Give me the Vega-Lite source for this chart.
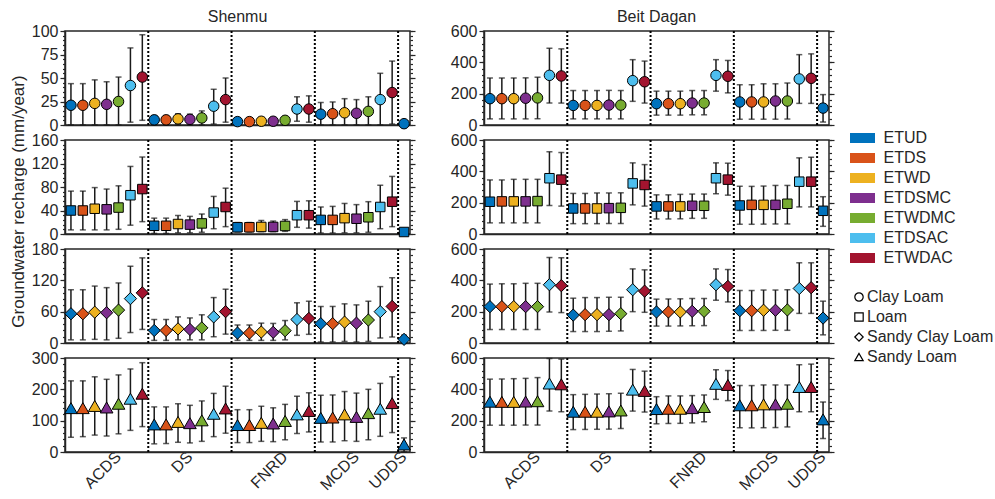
{
"$schema":"https://vega.github.io/schema/vega-lite/v6.json",
"background":"white",
"padding":{"left":8,"top":8,"right":5,"bottom":5},
"config":{
 "font":"Liberation Sans",
 "view":{"stroke":"#262626","strokeWidth":1.5},
 "axis":{"labelFont":"Liberation Sans","titleFont":"Liberation Sans","labelFontSize":16,"labelColor":"#262626","domainColor":"#262626","domainWidth":1.5,"tickColor":"#262626","tickWidth":1.2,"grid":false,"titleFontSize":16,"titleFontWeight":"normal","titleColor":"#262626","labelFlush":false,"labelOverlap":false,"labelBound":false},
 "title":{"font":"Liberation Sans","fontSize":16,"fontWeight":"normal","color":"#262626","offset":-2},
 "legend":{"labelFont":"Liberation Sans","labelFontSize":16,"labelColor":"#262626"}
},
"datasets":{
"seps":[{"case":"DS-ETUD"},{"case":"FNRD-ETUD"},{"case":"MCDS-ETUD"},{"case":"UDDS-ETUD"}],
"sm_cl":[
{"soil":"Clay Loam","case":"ACDS-ETUD","method":"ETUD","mean":21,"lo":0,"hi":44},
{"soil":"Clay Loam","case":"ACDS-ETDS","method":"ETDS","mean":21,"lo":0,"hi":44},
{"soil":"Clay Loam","case":"ACDS-ETWD","method":"ETWD","mean":23,"lo":0,"hi":48},
{"soil":"Clay Loam","case":"ACDS-ETDSMC","method":"ETDSMC","mean":22,"lo":0,"hi":46},
{"soil":"Clay Loam","case":"ACDS-ETWDMC","method":"ETWDMC","mean":25,"lo":0,"hi":51},
{"soil":"Clay Loam","case":"ACDS-ETDSAC","method":"ETDSAC","mean":42,"lo":3,"hi":82},
{"soil":"Clay Loam","case":"ACDS-ETWDAC","method":"ETWDAC","mean":51,"lo":5,"hi":96},
{"soil":"Clay Loam","case":"DS-ETUD","method":"ETUD","mean":5.5,"lo":0,"hi":10},
{"soil":"Clay Loam","case":"DS-ETDS","method":"ETDS","mean":5.5,"lo":0,"hi":10},
{"soil":"Clay Loam","case":"DS-ETWD","method":"ETWD","mean":6.5,"lo":0,"hi":12},
{"soil":"Clay Loam","case":"DS-ETDSMC","method":"ETDSMC","mean":6,"lo":0,"hi":11.5},
{"soil":"Clay Loam","case":"DS-ETWDMC","method":"ETWDMC","mean":7.5,"lo":0,"hi":15},
{"soil":"Clay Loam","case":"DS-ETDSAC","method":"ETDSAC","mean":20,"lo":1,"hi":38},
{"soil":"Clay Loam","case":"DS-ETWDAC","method":"ETWDAC","mean":27,"lo":3,"hi":50},
{"soil":"Clay Loam","case":"FNRD-ETUD","method":"ETUD","mean":3.6,"lo":0,"hi":7},
{"soil":"Clay Loam","case":"FNRD-ETDS","method":"ETDS","mean":3.6,"lo":0,"hi":7},
{"soil":"Clay Loam","case":"FNRD-ETWD","method":"ETWD","mean":4,"lo":0,"hi":8},
{"soil":"Clay Loam","case":"FNRD-ETDSMC","method":"ETDSMC","mean":4,"lo":0,"hi":8},
{"soil":"Clay Loam","case":"FNRD-ETWDMC","method":"ETWDMC","mean":5,"lo":0,"hi":9},
{"soil":"Clay Loam","case":"FNRD-ETDSAC","method":"ETDSAC","mean":17,"lo":4,"hi":30},
{"soil":"Clay Loam","case":"FNRD-ETWDAC","method":"ETWDAC","mean":17,"lo":3,"hi":31},
{"soil":"Clay Loam","case":"MCDS-ETUD","method":"ETUD","mean":11.5,"lo":0,"hi":24},
{"soil":"Clay Loam","case":"MCDS-ETDS","method":"ETDS","mean":12,"lo":0,"hi":24.5},
{"soil":"Clay Loam","case":"MCDS-ETWD","method":"ETWD","mean":13,"lo":0,"hi":28},
{"soil":"Clay Loam","case":"MCDS-ETDSMC","method":"ETDSMC","mean":12.5,"lo":0,"hi":27},
{"soil":"Clay Loam","case":"MCDS-ETWDMC","method":"ETWDMC","mean":14.5,"lo":0,"hi":30},
{"soil":"Clay Loam","case":"MCDS-ETDSAC","method":"ETDSAC","mean":27,"lo":0,"hi":55},
{"soil":"Clay Loam","case":"MCDS-ETWDAC","method":"ETWDAC","mean":34.5,"lo":1,"hi":68},
{"soil":"Clay Loam","case":"UDDS-ETUD","method":"ETUD","mean":1.4,"lo":0,"hi":3}
],
"sm_l":[
{"soil":"Loam","case":"ACDS-ETUD","method":"ETUD","mean":40,"lo":7,"hi":73},
{"soil":"Loam","case":"ACDS-ETDS","method":"ETDS","mean":40,"lo":7,"hi":73},
{"soil":"Loam","case":"ACDS-ETWD","method":"ETWD","mean":43,"lo":7,"hi":79},
{"soil":"Loam","case":"ACDS-ETDSMC","method":"ETDSMC","mean":42,"lo":7,"hi":76.5},
{"soil":"Loam","case":"ACDS-ETWDMC","method":"ETWDMC","mean":45,"lo":8,"hi":82},
{"soil":"Loam","case":"ACDS-ETDSAC","method":"ETDSAC","mean":66,"lo":15,"hi":115},
{"soil":"Loam","case":"ACDS-ETWDAC","method":"ETWDAC","mean":76.5,"lo":21,"hi":131},
{"soil":"Loam","case":"DS-ETUD","method":"ETUD","mean":14,"lo":1,"hi":27},
{"soil":"Loam","case":"DS-ETDS","method":"ETDS","mean":14,"lo":1,"hi":27},
{"soil":"Loam","case":"DS-ETWD","method":"ETWD","mean":17,"lo":2,"hi":31.5},
{"soil":"Loam","case":"DS-ETDSMC","method":"ETDSMC","mean":16,"lo":2,"hi":30},
{"soil":"Loam","case":"DS-ETWDMC","method":"ETWDMC","mean":18,"lo":3,"hi":34},
{"soil":"Loam","case":"DS-ETDSAC","method":"ETDSAC","mean":36.5,"lo":9,"hi":64},
{"soil":"Loam","case":"DS-ETWDAC","method":"ETWDAC","mean":46,"lo":12.5,"hi":78},
{"soil":"Loam","case":"FNRD-ETUD","method":"ETUD","mean":11.4,"lo":3.5,"hi":19.5},
{"soil":"Loam","case":"FNRD-ETDS","method":"ETDS","mean":11.4,"lo":3.5,"hi":19.5},
{"soil":"Loam","case":"FNRD-ETWD","method":"ETWD","mean":12,"lo":4,"hi":23},
{"soil":"Loam","case":"FNRD-ETDSMC","method":"ETDSMC","mean":12,"lo":4,"hi":22},
{"soil":"Loam","case":"FNRD-ETWDMC","method":"ETWDMC","mean":13.7,"lo":4.5,"hi":24.5},
{"soil":"Loam","case":"FNRD-ETDSAC","method":"ETDSAC","mean":32,"lo":11.4,"hi":55.5},
{"soil":"Loam","case":"FNRD-ETWDAC","method":"ETWDAC","mean":32,"lo":10,"hi":56.5},
{"soil":"Loam","case":"MCDS-ETUD","method":"ETUD","mean":24,"lo":1.7,"hi":46},
{"soil":"Loam","case":"MCDS-ETDS","method":"ETDS","mean":24,"lo":1.7,"hi":47},
{"soil":"Loam","case":"MCDS-ETWD","method":"ETWD","mean":27,"lo":2,"hi":52},
{"soil":"Loam","case":"MCDS-ETDSMC","method":"ETDSMC","mean":26,"lo":2,"hi":50},
{"soil":"Loam","case":"MCDS-ETWDMC","method":"ETWDMC","mean":28.5,"lo":3,"hi":55},
{"soil":"Loam","case":"MCDS-ETDSAC","method":"ETDSAC","mean":46,"lo":9,"hi":83},
{"soil":"Loam","case":"MCDS-ETWDAC","method":"ETWDAC","mean":55,"lo":12.5,"hi":98},
{"soil":"Loam","case":"UDDS-ETUD","method":"ETUD","mean":3.4,"lo":0,"hi":7}
],
"sm_scl":[
{"soil":"Sandy Clay Loam","case":"ACDS-ETUD","method":"ETUD","mean":56,"lo":6,"hi":102},
{"soil":"Sandy Clay Loam","case":"ACDS-ETDS","method":"ETDS","mean":56,"lo":6,"hi":102},
{"soil":"Sandy Clay Loam","case":"ACDS-ETWD","method":"ETWD","mean":59,"lo":7,"hi":109},
{"soil":"Sandy Clay Loam","case":"ACDS-ETDSMC","method":"ETDSMC","mean":58,"lo":6,"hi":106},
{"soil":"Sandy Clay Loam","case":"ACDS-ETWDMC","method":"ETWDMC","mean":63,"lo":9,"hi":115},
{"soil":"Sandy Clay Loam","case":"ACDS-ETDSAC","method":"ETDSAC","mean":85,"lo":20,"hi":147},
{"soil":"Sandy Clay Loam","case":"ACDS-ETWDAC","method":"ETWDAC","mean":96,"lo":26,"hi":163},
{"soil":"Sandy Clay Loam","case":"DS-ETUD","method":"ETUD","mean":24,"lo":5,"hi":45},
{"soil":"Sandy Clay Loam","case":"DS-ETDS","method":"ETDS","mean":24,"lo":5,"hi":45},
{"soil":"Sandy Clay Loam","case":"DS-ETWD","method":"ETWD","mean":27,"lo":6,"hi":50},
{"soil":"Sandy Clay Loam","case":"DS-ETDSMC","method":"ETDSMC","mean":26,"lo":6,"hi":48},
{"soil":"Sandy Clay Loam","case":"DS-ETWDMC","method":"ETWDMC","mean":29,"lo":6,"hi":54},
{"soil":"Sandy Clay Loam","case":"DS-ETDSAC","method":"ETDSAC","mean":50,"lo":12,"hi":87},
{"soil":"Sandy Clay Loam","case":"DS-ETWDAC","method":"ETWDAC","mean":60,"lo":17,"hi":103},
{"soil":"Sandy Clay Loam","case":"FNRD-ETUD","method":"ETUD","mean":19,"lo":5,"hi":34.5},
{"soil":"Sandy Clay Loam","case":"FNRD-ETDS","method":"ETDS","mean":19,"lo":5,"hi":34.5},
{"soil":"Sandy Clay Loam","case":"FNRD-ETWD","method":"ETWD","mean":21,"lo":5,"hi":38},
{"soil":"Sandy Clay Loam","case":"FNRD-ETDSMC","method":"ETDSMC","mean":20.5,"lo":5,"hi":37.5},
{"soil":"Sandy Clay Loam","case":"FNRD-ETWDMC","method":"ETWDMC","mean":23.6,"lo":6,"hi":43},
{"soil":"Sandy Clay Loam","case":"FNRD-ETDSAC","method":"ETDSAC","mean":45,"lo":14.7,"hi":77},
{"soil":"Sandy Clay Loam","case":"FNRD-ETWDAC","method":"ETWDAC","mean":47,"lo":16.6,"hi":80},
{"soil":"Sandy Clay Loam","case":"MCDS-ETUD","method":"ETUD","mean":37,"lo":2,"hi":70},
{"soil":"Sandy Clay Loam","case":"MCDS-ETDS","method":"ETDS","mean":37,"lo":2,"hi":70},
{"soil":"Sandy Clay Loam","case":"MCDS-ETWD","method":"ETWD","mean":40,"lo":3,"hi":75},
{"soil":"Sandy Clay Loam","case":"MCDS-ETDSMC","method":"ETDSMC","mean":38,"lo":2,"hi":73},
{"soil":"Sandy Clay Loam","case":"MCDS-ETWDMC","method":"ETWDMC","mean":44,"lo":3,"hi":80},
{"soil":"Sandy Clay Loam","case":"MCDS-ETDSAC","method":"ETDSAC","mean":60,"lo":9.6,"hi":108},
{"soil":"Sandy Clay Loam","case":"MCDS-ETWDAC","method":"ETWDAC","mean":70,"lo":11.5,"hi":125},
{"soil":"Sandy Clay Loam","case":"UDDS-ETUD","method":"ETUD","mean":7,"lo":0,"hi":15}
],
"sm_sl":[
{"soil":"Sandy Loam","case":"ACDS-ETUD","method":"ETUD","mean":140,"lo":47,"hi":227},
{"soil":"Sandy Loam","case":"ACDS-ETDS","method":"ETDS","mean":140,"lo":49,"hi":227},
{"soil":"Sandy Loam","case":"ACDS-ETWD","method":"ETWD","mean":147,"lo":54,"hi":240},
{"soil":"Sandy Loam","case":"ACDS-ETDSMC","method":"ETDSMC","mean":142,"lo":51,"hi":232},
{"soil":"Sandy Loam","case":"ACDS-ETWDMC","method":"ETWDMC","mean":154,"lo":58,"hi":246},
{"soil":"Sandy Loam","case":"ACDS-ETDSAC","method":"ETDSAC","mean":170,"lo":69,"hi":265},
{"soil":"Sandy Loam","case":"ACDS-ETWDAC","method":"ETWDAC","mean":186,"lo":81,"hi":285},
{"soil":"Sandy Loam","case":"DS-ETUD","method":"ETUD","mean":88,"lo":26,"hi":144},
{"soil":"Sandy Loam","case":"DS-ETDS","method":"ETDS","mean":88,"lo":27,"hi":144},
{"soil":"Sandy Loam","case":"DS-ETWD","method":"ETWD","mean":96,"lo":31,"hi":154},
{"soil":"Sandy Loam","case":"DS-ETDSMC","method":"ETDSMC","mean":92,"lo":29,"hi":149},
{"soil":"Sandy Loam","case":"DS-ETWDMC","method":"ETWDMC","mean":101,"lo":34,"hi":163},
{"soil":"Sandy Loam","case":"DS-ETDSAC","method":"ETDSAC","mean":122,"lo":49,"hi":187},
{"soil":"Sandy Loam","case":"DS-ETWDAC","method":"ETWDAC","mean":139,"lo":60,"hi":210},
{"soil":"Sandy Loam","case":"FNRD-ETUD","method":"ETUD","mean":86,"lo":30,"hi":135},
{"soil":"Sandy Loam","case":"FNRD-ETDS","method":"ETDS","mean":86,"lo":30,"hi":135},
{"soil":"Sandy Loam","case":"FNRD-ETWD","method":"ETWD","mean":93,"lo":34,"hi":146},
{"soil":"Sandy Loam","case":"FNRD-ETDSMC","method":"ETDSMC","mean":91,"lo":33,"hi":141},
{"soil":"Sandy Loam","case":"FNRD-ETWDMC","method":"ETWDMC","mean":99,"lo":39,"hi":152},
{"soil":"Sandy Loam","case":"FNRD-ETDSAC","method":"ETDSAC","mean":120,"lo":59,"hi":178},
{"soil":"Sandy Loam","case":"FNRD-ETWDAC","method":"ETWDAC","mean":131,"lo":64,"hi":189},
{"soil":"Sandy Loam","case":"MCDS-ETUD","method":"ETUD","mean":109,"lo":32,"hi":181},
{"soil":"Sandy Loam","case":"MCDS-ETDS","method":"ETDS","mean":110,"lo":32,"hi":182},
{"soil":"Sandy Loam","case":"MCDS-ETWD","method":"ETWD","mean":120,"lo":36,"hi":193},
{"soil":"Sandy Loam","case":"MCDS-ETDSMC","method":"ETDSMC","mean":112,"lo":34,"hi":188},
{"soil":"Sandy Loam","case":"MCDS-ETWDMC","method":"ETWDMC","mean":124,"lo":39,"hi":200},
{"soil":"Sandy Loam","case":"MCDS-ETDSAC","method":"ETDSAC","mean":138,"lo":50,"hi":219},
{"soil":"Sandy Loam","case":"MCDS-ETWDAC","method":"ETWDAC","mean":156,"lo":62,"hi":240},
{"soil":"Sandy Loam","case":"UDDS-ETUD","method":"ETUD","mean":24,"lo":0,"hi":45}
],
"bd_cl":[
{"soil":"Clay Loam","case":"ACDS-ETUD","method":"ETUD","mean":168,"lo":39,"hi":300},
{"soil":"Clay Loam","case":"ACDS-ETDS","method":"ETDS","mean":168,"lo":39,"hi":300},
{"soil":"Clay Loam","case":"ACDS-ETWD","method":"ETWD","mean":168,"lo":39,"hi":300},
{"soil":"Clay Loam","case":"ACDS-ETDSMC","method":"ETDSMC","mean":171,"lo":39,"hi":301},
{"soil":"Clay Loam","case":"ACDS-ETWDMC","method":"ETWDMC","mean":173,"lo":40,"hi":305},
{"soil":"Clay Loam","case":"ACDS-ETDSAC","method":"ETDSAC","mean":317,"lo":140,"hi":490},
{"soil":"Clay Loam","case":"ACDS-ETWDAC","method":"ETWDAC","mean":313,"lo":140,"hi":486},
{"soil":"Clay Loam","case":"DS-ETUD","method":"ETUD","mean":125,"lo":39,"hi":220},
{"soil":"Clay Loam","case":"DS-ETDS","method":"ETDS","mean":125,"lo":39,"hi":220},
{"soil":"Clay Loam","case":"DS-ETWD","method":"ETWD","mean":125,"lo":39,"hi":220},
{"soil":"Clay Loam","case":"DS-ETDSMC","method":"ETDSMC","mean":127,"lo":39,"hi":221},
{"soil":"Clay Loam","case":"DS-ETWDMC","method":"ETWDMC","mean":127,"lo":39,"hi":220},
{"soil":"Clay Loam","case":"DS-ETDSAC","method":"ETDSAC","mean":283,"lo":151,"hi":417},
{"soil":"Clay Loam","case":"DS-ETWDAC","method":"ETWDAC","mean":276,"lo":140,"hi":408},
{"soil":"Clay Loam","case":"FNRD-ETUD","method":"ETUD","mean":136,"lo":63,"hi":216},
{"soil":"Clay Loam","case":"FNRD-ETDS","method":"ETDS","mean":136,"lo":63,"hi":216},
{"soil":"Clay Loam","case":"FNRD-ETWD","method":"ETWD","mean":136,"lo":63,"hi":216},
{"soil":"Clay Loam","case":"FNRD-ETDSMC","method":"ETDSMC","mean":140,"lo":65,"hi":220},
{"soil":"Clay Loam","case":"FNRD-ETWDMC","method":"ETWDMC","mean":140,"lo":65,"hi":220},
{"soil":"Clay Loam","case":"FNRD-ETDSAC","method":"ETDSAC","mean":317,"lo":216,"hi":417},
{"soil":"Clay Loam","case":"FNRD-ETWDAC","method":"ETWDAC","mean":311,"lo":205,"hi":412},
{"soil":"Clay Loam","case":"MCDS-ETUD","method":"ETUD","mean":147,"lo":37,"hi":257},
{"soil":"Clay Loam","case":"MCDS-ETDS","method":"ETDS","mean":147,"lo":37,"hi":257},
{"soil":"Clay Loam","case":"MCDS-ETWD","method":"ETWD","mean":147,"lo":37,"hi":263},
{"soil":"Clay Loam","case":"MCDS-ETDSMC","method":"ETDSMC","mean":153,"lo":37,"hi":263},
{"soil":"Clay Loam","case":"MCDS-ETWDMC","method":"ETWDMC","mean":153,"lo":38,"hi":268},
{"soil":"Clay Loam","case":"MCDS-ETDSAC","method":"ETDSAC","mean":294,"lo":138,"hi":449},
{"soil":"Clay Loam","case":"MCDS-ETWDAC","method":"ETWDAC","mean":298,"lo":138,"hi":454},
{"soil":"Clay Loam","case":"UDDS-ETUD","method":"ETUD","mean":108,"lo":19,"hi":194}
],
"bd_l":[
{"soil":"Loam","case":"ACDS-ETUD","method":"ETUD","mean":206,"lo":71,"hi":345},
{"soil":"Loam","case":"ACDS-ETDS","method":"ETDS","mean":208,"lo":71,"hi":345},
{"soil":"Loam","case":"ACDS-ETWD","method":"ETWD","mean":208,"lo":71,"hi":349},
{"soil":"Loam","case":"ACDS-ETDSMC","method":"ETDSMC","mean":208,"lo":71,"hi":349},
{"soil":"Loam","case":"ACDS-ETWDMC","method":"ETWDMC","mean":210,"lo":71,"hi":349},
{"soil":"Loam","case":"ACDS-ETDSAC","method":"ETDSAC","mean":356,"lo":182,"hi":525},
{"soil":"Loam","case":"ACDS-ETWDAC","method":"ETWDAC","mean":347,"lo":178,"hi":520},
{"soil":"Loam","case":"DS-ETUD","method":"ETUD","mean":163,"lo":66,"hi":259},
{"soil":"Loam","case":"DS-ETDS","method":"ETDS","mean":163,"lo":66,"hi":259},
{"soil":"Loam","case":"DS-ETWD","method":"ETWD","mean":163,"lo":66,"hi":262},
{"soil":"Loam","case":"DS-ETDSMC","method":"ETDSMC","mean":165,"lo":67,"hi":262},
{"soil":"Loam","case":"DS-ETWDMC","method":"ETWDMC","mean":167,"lo":67,"hi":263},
{"soil":"Loam","case":"DS-ETDSAC","method":"ETDSAC","mean":323,"lo":186,"hi":454},
{"soil":"Loam","case":"DS-ETWDAC","method":"ETWDAC","mean":313,"lo":178,"hi":443},
{"soil":"Loam","case":"FNRD-ETUD","method":"ETUD","mean":176,"lo":96,"hi":250},
{"soil":"Loam","case":"FNRD-ETDS","method":"ETDS","mean":176,"lo":96,"hi":250},
{"soil":"Loam","case":"FNRD-ETWD","method":"ETWD","mean":176,"lo":97,"hi":253},
{"soil":"Loam","case":"FNRD-ETDSMC","method":"ETDSMC","mean":180,"lo":100,"hi":255},
{"soil":"Loam","case":"FNRD-ETWDMC","method":"ETWDMC","mean":180,"lo":100,"hi":255},
{"soil":"Loam","case":"FNRD-ETDSAC","method":"ETDSAC","mean":356,"lo":257,"hi":454},
{"soil":"Loam","case":"FNRD-ETWDAC","method":"ETWDAC","mean":347,"lo":248,"hi":452},
{"soil":"Loam","case":"MCDS-ETUD","method":"ETUD","mean":182,"lo":62,"hi":304},
{"soil":"Loam","case":"MCDS-ETDS","method":"ETDS","mean":186,"lo":62,"hi":304},
{"soil":"Loam","case":"MCDS-ETWD","method":"ETWD","mean":186,"lo":63,"hi":306},
{"soil":"Loam","case":"MCDS-ETDSMC","method":"ETDSMC","mean":186,"lo":64,"hi":310},
{"soil":"Loam","case":"MCDS-ETWDMC","method":"ETWDMC","mean":193,"lo":64,"hi":310},
{"soil":"Loam","case":"MCDS-ETDSAC","method":"ETDSAC","mean":334,"lo":173,"hi":486},
{"soil":"Loam","case":"MCDS-ETWDAC","method":"ETWDAC","mean":334,"lo":173,"hi":490},
{"soil":"Loam","case":"UDDS-ETUD","method":"ETUD","mean":148,"lo":49,"hi":238}
],
"bd_scl":[
{"soil":"Sandy Clay Loam","case":"ACDS-ETUD","method":"ETUD","mean":232,"lo":86,"hi":376},
{"soil":"Sandy Clay Loam","case":"ACDS-ETDS","method":"ETDS","mean":232,"lo":86,"hi":378},
{"soil":"Sandy Clay Loam","case":"ACDS-ETWD","method":"ETWD","mean":232,"lo":86,"hi":378},
{"soil":"Sandy Clay Loam","case":"ACDS-ETDSMC","method":"ETDSMC","mean":232,"lo":86,"hi":381},
{"soil":"Sandy Clay Loam","case":"ACDS-ETWDMC","method":"ETWDMC","mean":232,"lo":86,"hi":381},
{"soil":"Sandy Clay Loam","case":"ACDS-ETDSAC","method":"ETDSAC","mean":372,"lo":198,"hi":546},
{"soil":"Sandy Clay Loam","case":"ACDS-ETWDAC","method":"ETWDAC","mean":366,"lo":194,"hi":544},
{"soil":"Sandy Clay Loam","case":"DS-ETUD","method":"ETUD","mean":178,"lo":73,"hi":286},
{"soil":"Sandy Clay Loam","case":"DS-ETDS","method":"ETDS","mean":181,"lo":73,"hi":290},
{"soil":"Sandy Clay Loam","case":"DS-ETWD","method":"ETWD","mean":181,"lo":73,"hi":290},
{"soil":"Sandy Clay Loam","case":"DS-ETDSMC","method":"ETDSMC","mean":181,"lo":75,"hi":292},
{"soil":"Sandy Clay Loam","case":"DS-ETWDMC","method":"ETWDMC","mean":187,"lo":77,"hi":292},
{"soil":"Sandy Clay Loam","case":"DS-ETDSAC","method":"ETDSAC","mean":340,"lo":200,"hi":473},
{"soil":"Sandy Clay Loam","case":"DS-ETWDAC","method":"ETWDAC","mean":331,"lo":196,"hi":467},
{"soil":"Sandy Clay Loam","case":"FNRD-ETUD","method":"ETUD","mean":198,"lo":108,"hi":280},
{"soil":"Sandy Clay Loam","case":"FNRD-ETDS","method":"ETDS","mean":198,"lo":108,"hi":281},
{"soil":"Sandy Clay Loam","case":"FNRD-ETWD","method":"ETWD","mean":198,"lo":109,"hi":282},
{"soil":"Sandy Clay Loam","case":"FNRD-ETDSMC","method":"ETDSMC","mean":202,"lo":110,"hi":284},
{"soil":"Sandy Clay Loam","case":"FNRD-ETWDMC","method":"ETWDMC","mean":202,"lo":111,"hi":284},
{"soil":"Sandy Clay Loam","case":"FNRD-ETDSAC","method":"ETDSAC","mean":372,"lo":273,"hi":473},
{"soil":"Sandy Clay Loam","case":"FNRD-ETWDAC","method":"ETWDAC","mean":361,"lo":262,"hi":469},
{"soil":"Sandy Clay Loam","case":"MCDS-ETUD","method":"ETUD","mean":206,"lo":80,"hi":335},
{"soil":"Sandy Clay Loam","case":"MCDS-ETDS","method":"ETDS","mean":206,"lo":80,"hi":335},
{"soil":"Sandy Clay Loam","case":"MCDS-ETWD","method":"ETWD","mean":209,"lo":80,"hi":338},
{"soil":"Sandy Clay Loam","case":"MCDS-ETDSMC","method":"ETDSMC","mean":209,"lo":81,"hi":338},
{"soil":"Sandy Clay Loam","case":"MCDS-ETWDMC","method":"ETWDMC","mean":211,"lo":81,"hi":340},
{"soil":"Sandy Clay Loam","case":"MCDS-ETDSAC","method":"ETDSAC","mean":348,"lo":189,"hi":512},
{"soil":"Sandy Clay Loam","case":"MCDS-ETWDAC","method":"ETWDAC","mean":353,"lo":189,"hi":512},
{"soil":"Sandy Clay Loam","case":"UDDS-ETUD","method":"ETUD","mean":159,"lo":52,"hi":267}
],
"bd_sl":[
{"soil":"Sandy Loam","case":"ACDS-ETUD","method":"ETUD","mean":321,"lo":171,"hi":465},
{"soil":"Sandy Loam","case":"ACDS-ETDS","method":"ETDS","mean":320,"lo":171,"hi":466},
{"soil":"Sandy Loam","case":"ACDS-ETWD","method":"ETWD","mean":320,"lo":171,"hi":468},
{"soil":"Sandy Loam","case":"ACDS-ETDSMC","method":"ETDSMC","mean":322,"lo":172,"hi":470},
{"soil":"Sandy Loam","case":"ACDS-ETWDMC","method":"ETWDMC","mean":324,"lo":172,"hi":475},
{"soil":"Sandy Loam","case":"ACDS-ETDSAC","method":"ETDSAC","mean":437,"lo":261,"hi":597},
{"soil":"Sandy Loam","case":"ACDS-ETWDAC","method":"ETWDAC","mean":432,"lo":257,"hi":593},
{"soil":"Sandy Loam","case":"DS-ETUD","method":"ETUD","mean":257,"lo":143,"hi":366},
{"soil":"Sandy Loam","case":"DS-ETDS","method":"ETDS","mean":257,"lo":144,"hi":368},
{"soil":"Sandy Loam","case":"DS-ETWD","method":"ETWD","mean":257,"lo":145,"hi":370},
{"soil":"Sandy Loam","case":"DS-ETDSMC","method":"ETDSMC","mean":259,"lo":146,"hi":372},
{"soil":"Sandy Loam","case":"DS-ETWDMC","method":"ETWDMC","mean":265,"lo":150,"hi":375},
{"soil":"Sandy Loam","case":"DS-ETDSAC","method":"ETDSAC","mean":398,"lo":261,"hi":527},
{"soil":"Sandy Loam","case":"DS-ETWDAC","method":"ETWDAC","mean":390,"lo":255,"hi":516},
{"soil":"Sandy Loam","case":"FNRD-ETUD","method":"ETUD","mean":274,"lo":180,"hi":353},
{"soil":"Sandy Loam","case":"FNRD-ETDS","method":"ETDS","mean":276,"lo":182,"hi":358},
{"soil":"Sandy Loam","case":"FNRD-ETWD","method":"ETWD","mean":276,"lo":183,"hi":358},
{"soil":"Sandy Loam","case":"FNRD-ETDSMC","method":"ETDSMC","mean":280,"lo":186,"hi":360},
{"soil":"Sandy Loam","case":"FNRD-ETWDMC","method":"ETWDMC","mean":287,"lo":193,"hi":364},
{"soil":"Sandy Loam","case":"FNRD-ETDSAC","method":"ETDSAC","mean":435,"lo":336,"hi":525},
{"soil":"Sandy Loam","case":"FNRD-ETWDAC","method":"ETWDAC","mean":428,"lo":328,"hi":520},
{"soil":"Sandy Loam","case":"MCDS-ETUD","method":"ETUD","mean":298,"lo":154,"hi":424},
{"soil":"Sandy Loam","case":"MCDS-ETDS","method":"ETDS","mean":298,"lo":154,"hi":424},
{"soil":"Sandy Loam","case":"MCDS-ETWD","method":"ETWD","mean":304,"lo":155,"hi":428},
{"soil":"Sandy Loam","case":"MCDS-ETDSMC","method":"ETDSMC","mean":304,"lo":156,"hi":428},
{"soil":"Sandy Loam","case":"MCDS-ETWDMC","method":"ETWDMC","mean":308,"lo":160,"hi":428},
{"soil":"Sandy Loam","case":"MCDS-ETDSAC","method":"ETDSAC","mean":415,"lo":257,"hi":557},
{"soil":"Sandy Loam","case":"MCDS-ETWDAC","method":"ETWDAC","mean":415,"lo":257,"hi":561},
{"soil":"Sandy Loam","case":"UDDS-ETUD","method":"ETUD","mean":208,"lo":86,"hi":319}
]
},
"columns":2,
"spacing":{"row":15,"column":74},
"bounds":"flush",
"resolve":{"scale":{"color":"shared","shape":"shared"},"legend":{"color":"shared","shape":"shared"}},
"concat":[
{"width":345,"height":94,"title":"Shenmu","data":{"name":"sm_cl"},"resolve":{"axis":{"y":"independent"}},"layer":[
 {"data":{"name":"seps"},"mark":{"type":"rule","strokeDash":[2,2],"strokeWidth":2,"color":"black"},"encoding":{"x":{"field":"case","type":"nominal","bandPosition":0,"scale":{"type":"band","paddingInner":0,"paddingOuter":0,"domain":["ACDS-ETUD","ACDS-ETDS","ACDS-ETWD","ACDS-ETDSMC","ACDS-ETWDMC","ACDS-ETDSAC","ACDS-ETWDAC","DS-ETUD","DS-ETDS","DS-ETWD","DS-ETDSMC","DS-ETWDMC","DS-ETDSAC","DS-ETWDAC","FNRD-ETUD","FNRD-ETDS","FNRD-ETWD","FNRD-ETDSMC","FNRD-ETWDMC","FNRD-ETDSAC","FNRD-ETWDAC","MCDS-ETUD","MCDS-ETDS","MCDS-ETWD","MCDS-ETDSMC","MCDS-ETWDMC","MCDS-ETDSAC","MCDS-ETWDAC","UDDS-ETUD"]},"axis":{"labels":false,"ticks":false,"title":null}}}},
 {"mark":{"type":"rule","color":"#1a1a1a","strokeWidth":1.5},"encoding":{"x":{"field":"case","type":"nominal","scale":{"type":"band","paddingInner":0,"paddingOuter":0,"domain":["ACDS-ETUD","ACDS-ETDS","ACDS-ETWD","ACDS-ETDSMC","ACDS-ETWDMC","ACDS-ETDSAC","ACDS-ETWDAC","DS-ETUD","DS-ETDS","DS-ETWD","DS-ETDSMC","DS-ETWDMC","DS-ETDSAC","DS-ETWDAC","FNRD-ETUD","FNRD-ETDS","FNRD-ETWD","FNRD-ETDSMC","FNRD-ETWDMC","FNRD-ETDSAC","FNRD-ETWDAC","MCDS-ETUD","MCDS-ETDS","MCDS-ETWD","MCDS-ETDSMC","MCDS-ETWDMC","MCDS-ETDSAC","MCDS-ETWDAC","UDDS-ETUD"]}},"y":{"field":"lo","type":"quantitative","scale":{"domain":[0,100],"nice":false},"axis":{"orient":"left","values":[0,25,50,75,100],"tickSize":5,"labelPadding":2,"title":null}},"y2":{"field":"hi"}}},
 {"mark":{"type":"tick","color":"#1a1a1a","thickness":1.5,"size":6},"encoding":{"x":{"field":"case","type":"nominal","scale":{"type":"band","paddingInner":0,"paddingOuter":0,"domain":["ACDS-ETUD","ACDS-ETDS","ACDS-ETWD","ACDS-ETDSMC","ACDS-ETWDMC","ACDS-ETDSAC","ACDS-ETWDAC","DS-ETUD","DS-ETDS","DS-ETWD","DS-ETDSMC","DS-ETWDMC","DS-ETDSAC","DS-ETWDAC","FNRD-ETUD","FNRD-ETDS","FNRD-ETWD","FNRD-ETDSMC","FNRD-ETWDMC","FNRD-ETDSAC","FNRD-ETWDAC","MCDS-ETUD","MCDS-ETDS","MCDS-ETWD","MCDS-ETDSMC","MCDS-ETWDMC","MCDS-ETDSAC","MCDS-ETWDAC","UDDS-ETUD"]}},"y":{"field":"lo","type":"quantitative","scale":{"domain":[0,100],"nice":false},"axis":{"orient":"left","values":[0,5,10,15,20,25,30,35,40,45,50,55,60,65,70,75,80,85,90,95,100],"tickSize":2.5,"labels":false,"domain":false,"title":null}}}},
 {"mark":{"type":"tick","color":"#1a1a1a","thickness":1.5,"size":6},"encoding":{"x":{"field":"case","type":"nominal","scale":{"type":"band","paddingInner":0,"paddingOuter":0,"domain":["ACDS-ETUD","ACDS-ETDS","ACDS-ETWD","ACDS-ETDSMC","ACDS-ETWDMC","ACDS-ETDSAC","ACDS-ETWDAC","DS-ETUD","DS-ETDS","DS-ETWD","DS-ETDSMC","DS-ETWDMC","DS-ETDSAC","DS-ETWDAC","FNRD-ETUD","FNRD-ETDS","FNRD-ETWD","FNRD-ETDSMC","FNRD-ETWDMC","FNRD-ETDSAC","FNRD-ETWDAC","MCDS-ETUD","MCDS-ETDS","MCDS-ETWD","MCDS-ETDSMC","MCDS-ETWDMC","MCDS-ETDSAC","MCDS-ETWDAC","UDDS-ETUD"]}},"y":{"field":"hi","type":"quantitative","scale":{"domain":[0,100],"nice":false},"axis":{"orient":"right","values":[0,5,10,15,20,25,30,35,40,45,50,55,60,65,70,75,80,85,90,95,100],"tickSize":2.5,"labels":false,"domain":false,"title":null}}}},
 {"mark":{"type":"point","filled":true,"opacity":1,"stroke":"black","strokeWidth":1,"size":110},"encoding":{"x":{"field":"case","type":"nominal","scale":{"type":"band","paddingInner":0,"paddingOuter":0,"domain":["ACDS-ETUD","ACDS-ETDS","ACDS-ETWD","ACDS-ETDSMC","ACDS-ETWDMC","ACDS-ETDSAC","ACDS-ETWDAC","DS-ETUD","DS-ETDS","DS-ETWD","DS-ETDSMC","DS-ETWDMC","DS-ETDSAC","DS-ETWDAC","FNRD-ETUD","FNRD-ETDS","FNRD-ETWD","FNRD-ETDSMC","FNRD-ETWDMC","FNRD-ETDSAC","FNRD-ETWDAC","MCDS-ETUD","MCDS-ETDS","MCDS-ETWD","MCDS-ETDSMC","MCDS-ETWDMC","MCDS-ETDSAC","MCDS-ETWDAC","UDDS-ETUD"]}},"y":{"field":"mean","type":"quantitative","scale":{"domain":[0,100],"nice":false},"axis":{"orient":"right","values":[0,25,50,75,100],"tickSize":5,"labels":false,"domain":false,"title":null}},
  "color":{"field":"method","type":"nominal","scale":{"domain":["ETUD","ETDS","ETWD","ETDSMC","ETWDMC","ETDSAC","ETWDAC"],"range":["#0072BD","#D95319","#EDB120","#7E2F8E","#77AC30","#4DBEEE","#A2142F"]},"legend":{"title":null,"orient":"none","legendX":787.5,"legendY":97,"symbolType":"M-1.25,-0.5H1.25V0.5H-1.25Z","symbolSize":400,"symbolStrokeWidth":0,"labelOffset":11,"rowPadding":2,"padding":0,"labelFontSize":16}},
  "shape":{"field":"soil","type":"nominal","scale":{"domain":["Clay Loam","Loam","Sandy Clay Loam","Sandy Loam"],"range":["circle","square","diamond","triangle-up"]},"legend":{"title":null,"orient":"none","legendX":786,"legendY":258,"symbolSize":70,"labelOffset":0,"rowPadding":4,"padding":0,"labelFontSize":16,"symbolStrokeWidth":1.2,"symbolStrokeColor":"black","symbolFillColor":"white","encode":{"symbols":{"update":{"fill":{"value":"white"},"stroke":{"value":"black"},"strokeWidth":{"value":1.2}}}}}}}}
]},
{"width":345,"height":94,"title":"Beit Dagan","data":{"name":"bd_cl"},"resolve":{"axis":{"y":"independent"}},"layer":[
 {"data":{"name":"seps"},"mark":{"type":"rule","strokeDash":[2,2],"strokeWidth":2,"color":"black"},"encoding":{"x":{"field":"case","type":"nominal","bandPosition":0,"scale":{"type":"band","paddingInner":0,"paddingOuter":0,"domain":["ACDS-ETUD","ACDS-ETDS","ACDS-ETWD","ACDS-ETDSMC","ACDS-ETWDMC","ACDS-ETDSAC","ACDS-ETWDAC","DS-ETUD","DS-ETDS","DS-ETWD","DS-ETDSMC","DS-ETWDMC","DS-ETDSAC","DS-ETWDAC","FNRD-ETUD","FNRD-ETDS","FNRD-ETWD","FNRD-ETDSMC","FNRD-ETWDMC","FNRD-ETDSAC","FNRD-ETWDAC","MCDS-ETUD","MCDS-ETDS","MCDS-ETWD","MCDS-ETDSMC","MCDS-ETWDMC","MCDS-ETDSAC","MCDS-ETWDAC","UDDS-ETUD"]},"axis":{"labels":false,"ticks":false,"title":null}}}},
 {"mark":{"type":"rule","color":"#1a1a1a","strokeWidth":1.5},"encoding":{"x":{"field":"case","type":"nominal","scale":{"type":"band","paddingInner":0,"paddingOuter":0,"domain":["ACDS-ETUD","ACDS-ETDS","ACDS-ETWD","ACDS-ETDSMC","ACDS-ETWDMC","ACDS-ETDSAC","ACDS-ETWDAC","DS-ETUD","DS-ETDS","DS-ETWD","DS-ETDSMC","DS-ETWDMC","DS-ETDSAC","DS-ETWDAC","FNRD-ETUD","FNRD-ETDS","FNRD-ETWD","FNRD-ETDSMC","FNRD-ETWDMC","FNRD-ETDSAC","FNRD-ETWDAC","MCDS-ETUD","MCDS-ETDS","MCDS-ETWD","MCDS-ETDSMC","MCDS-ETWDMC","MCDS-ETDSAC","MCDS-ETWDAC","UDDS-ETUD"]}},"y":{"field":"lo","type":"quantitative","scale":{"domain":[0,600],"nice":false},"axis":{"orient":"left","values":[0,200,400,600],"tickSize":5,"labelPadding":2,"title":null}},"y2":{"field":"hi"}}},
 {"mark":{"type":"tick","color":"#1a1a1a","thickness":1.5,"size":6},"encoding":{"x":{"field":"case","type":"nominal","scale":{"type":"band","paddingInner":0,"paddingOuter":0,"domain":["ACDS-ETUD","ACDS-ETDS","ACDS-ETWD","ACDS-ETDSMC","ACDS-ETWDMC","ACDS-ETDSAC","ACDS-ETWDAC","DS-ETUD","DS-ETDS","DS-ETWD","DS-ETDSMC","DS-ETWDMC","DS-ETDSAC","DS-ETWDAC","FNRD-ETUD","FNRD-ETDS","FNRD-ETWD","FNRD-ETDSMC","FNRD-ETWDMC","FNRD-ETDSAC","FNRD-ETWDAC","MCDS-ETUD","MCDS-ETDS","MCDS-ETWD","MCDS-ETDSMC","MCDS-ETWDMC","MCDS-ETDSAC","MCDS-ETWDAC","UDDS-ETUD"]}},"y":{"field":"lo","type":"quantitative","scale":{"domain":[0,600],"nice":false},"axis":{"orient":"left","values":[0,40,80,120,160,200,240,280,320,360,400,440,480,520,560,600],"tickSize":2.5,"labels":false,"domain":false,"title":null}}}},
 {"mark":{"type":"tick","color":"#1a1a1a","thickness":1.5,"size":6},"encoding":{"x":{"field":"case","type":"nominal","scale":{"type":"band","paddingInner":0,"paddingOuter":0,"domain":["ACDS-ETUD","ACDS-ETDS","ACDS-ETWD","ACDS-ETDSMC","ACDS-ETWDMC","ACDS-ETDSAC","ACDS-ETWDAC","DS-ETUD","DS-ETDS","DS-ETWD","DS-ETDSMC","DS-ETWDMC","DS-ETDSAC","DS-ETWDAC","FNRD-ETUD","FNRD-ETDS","FNRD-ETWD","FNRD-ETDSMC","FNRD-ETWDMC","FNRD-ETDSAC","FNRD-ETWDAC","MCDS-ETUD","MCDS-ETDS","MCDS-ETWD","MCDS-ETDSMC","MCDS-ETWDMC","MCDS-ETDSAC","MCDS-ETWDAC","UDDS-ETUD"]}},"y":{"field":"hi","type":"quantitative","scale":{"domain":[0,600],"nice":false},"axis":{"orient":"right","values":[0,40,80,120,160,200,240,280,320,360,400,440,480,520,560,600],"tickSize":2.5,"labels":false,"domain":false,"title":null}}}},
 {"mark":{"type":"point","filled":true,"opacity":1,"stroke":"black","strokeWidth":1,"size":110},"encoding":{"x":{"field":"case","type":"nominal","scale":{"type":"band","paddingInner":0,"paddingOuter":0,"domain":["ACDS-ETUD","ACDS-ETDS","ACDS-ETWD","ACDS-ETDSMC","ACDS-ETWDMC","ACDS-ETDSAC","ACDS-ETWDAC","DS-ETUD","DS-ETDS","DS-ETWD","DS-ETDSMC","DS-ETWDMC","DS-ETDSAC","DS-ETWDAC","FNRD-ETUD","FNRD-ETDS","FNRD-ETWD","FNRD-ETDSMC","FNRD-ETWDMC","FNRD-ETDSAC","FNRD-ETWDAC","MCDS-ETUD","MCDS-ETDS","MCDS-ETWD","MCDS-ETDSMC","MCDS-ETWDMC","MCDS-ETDSAC","MCDS-ETWDAC","UDDS-ETUD"]}},"y":{"field":"mean","type":"quantitative","scale":{"domain":[0,600],"nice":false},"axis":{"orient":"right","values":[0,200,400,600],"tickSize":5,"labels":false,"domain":false,"title":null}},
  "color":{"field":"method","type":"nominal","scale":{"domain":["ETUD","ETDS","ETWD","ETDSMC","ETWDMC","ETDSAC","ETWDAC"],"range":["#0072BD","#D95319","#EDB120","#7E2F8E","#77AC30","#4DBEEE","#A2142F"]}},
  "shape":{"field":"soil","type":"nominal","scale":{"domain":["Clay Loam","Loam","Sandy Clay Loam","Sandy Loam"],"range":["circle","square","diamond","triangle-up"]}}}}
]},
{"width":345,"height":94,"data":{"name":"sm_l"},"resolve":{"axis":{"y":"independent"}},"layer":[
 {"data":{"name":"seps"},"mark":{"type":"rule","strokeDash":[2,2],"strokeWidth":2,"color":"black"},"encoding":{"x":{"field":"case","type":"nominal","bandPosition":0,"scale":{"type":"band","paddingInner":0,"paddingOuter":0,"domain":["ACDS-ETUD","ACDS-ETDS","ACDS-ETWD","ACDS-ETDSMC","ACDS-ETWDMC","ACDS-ETDSAC","ACDS-ETWDAC","DS-ETUD","DS-ETDS","DS-ETWD","DS-ETDSMC","DS-ETWDMC","DS-ETDSAC","DS-ETWDAC","FNRD-ETUD","FNRD-ETDS","FNRD-ETWD","FNRD-ETDSMC","FNRD-ETWDMC","FNRD-ETDSAC","FNRD-ETWDAC","MCDS-ETUD","MCDS-ETDS","MCDS-ETWD","MCDS-ETDSMC","MCDS-ETWDMC","MCDS-ETDSAC","MCDS-ETWDAC","UDDS-ETUD"]},"axis":{"labels":false,"ticks":false,"title":null}}}},
 {"mark":{"type":"rule","color":"#1a1a1a","strokeWidth":1.5},"encoding":{"x":{"field":"case","type":"nominal","scale":{"type":"band","paddingInner":0,"paddingOuter":0,"domain":["ACDS-ETUD","ACDS-ETDS","ACDS-ETWD","ACDS-ETDSMC","ACDS-ETWDMC","ACDS-ETDSAC","ACDS-ETWDAC","DS-ETUD","DS-ETDS","DS-ETWD","DS-ETDSMC","DS-ETWDMC","DS-ETDSAC","DS-ETWDAC","FNRD-ETUD","FNRD-ETDS","FNRD-ETWD","FNRD-ETDSMC","FNRD-ETWDMC","FNRD-ETDSAC","FNRD-ETWDAC","MCDS-ETUD","MCDS-ETDS","MCDS-ETWD","MCDS-ETDSMC","MCDS-ETWDMC","MCDS-ETDSAC","MCDS-ETWDAC","UDDS-ETUD"]}},"y":{"field":"lo","type":"quantitative","scale":{"domain":[0,160],"nice":false},"axis":{"orient":"left","values":[0,40,80,120,160],"tickSize":5,"labelPadding":2,"title":"Groundwater recharge (mm/year)","titlePadding":4,"titleFontSize":17,"titleY":61}},"y2":{"field":"hi"}}},
 {"mark":{"type":"tick","color":"#1a1a1a","thickness":1.5,"size":6},"encoding":{"x":{"field":"case","type":"nominal","scale":{"type":"band","paddingInner":0,"paddingOuter":0,"domain":["ACDS-ETUD","ACDS-ETDS","ACDS-ETWD","ACDS-ETDSMC","ACDS-ETWDMC","ACDS-ETDSAC","ACDS-ETWDAC","DS-ETUD","DS-ETDS","DS-ETWD","DS-ETDSMC","DS-ETWDMC","DS-ETDSAC","DS-ETWDAC","FNRD-ETUD","FNRD-ETDS","FNRD-ETWD","FNRD-ETDSMC","FNRD-ETWDMC","FNRD-ETDSAC","FNRD-ETWDAC","MCDS-ETUD","MCDS-ETDS","MCDS-ETWD","MCDS-ETDSMC","MCDS-ETWDMC","MCDS-ETDSAC","MCDS-ETWDAC","UDDS-ETUD"]}},"y":{"field":"lo","type":"quantitative","scale":{"domain":[0,160],"nice":false},"axis":{"orient":"left","values":[0,8,16,24,32,40,48,56,64,72,80,88,96,104,112,120,128,136,144,152,160],"tickSize":2.5,"labels":false,"domain":false,"title":null}}}},
 {"mark":{"type":"tick","color":"#1a1a1a","thickness":1.5,"size":6},"encoding":{"x":{"field":"case","type":"nominal","scale":{"type":"band","paddingInner":0,"paddingOuter":0,"domain":["ACDS-ETUD","ACDS-ETDS","ACDS-ETWD","ACDS-ETDSMC","ACDS-ETWDMC","ACDS-ETDSAC","ACDS-ETWDAC","DS-ETUD","DS-ETDS","DS-ETWD","DS-ETDSMC","DS-ETWDMC","DS-ETDSAC","DS-ETWDAC","FNRD-ETUD","FNRD-ETDS","FNRD-ETWD","FNRD-ETDSMC","FNRD-ETWDMC","FNRD-ETDSAC","FNRD-ETWDAC","MCDS-ETUD","MCDS-ETDS","MCDS-ETWD","MCDS-ETDSMC","MCDS-ETWDMC","MCDS-ETDSAC","MCDS-ETWDAC","UDDS-ETUD"]}},"y":{"field":"hi","type":"quantitative","scale":{"domain":[0,160],"nice":false},"axis":{"orient":"right","values":[0,8,16,24,32,40,48,56,64,72,80,88,96,104,112,120,128,136,144,152,160],"tickSize":2.5,"labels":false,"domain":false,"title":null}}}},
 {"mark":{"type":"point","filled":true,"opacity":1,"stroke":"black","strokeWidth":1,"size":90},"encoding":{"x":{"field":"case","type":"nominal","scale":{"type":"band","paddingInner":0,"paddingOuter":0,"domain":["ACDS-ETUD","ACDS-ETDS","ACDS-ETWD","ACDS-ETDSMC","ACDS-ETWDMC","ACDS-ETDSAC","ACDS-ETWDAC","DS-ETUD","DS-ETDS","DS-ETWD","DS-ETDSMC","DS-ETWDMC","DS-ETDSAC","DS-ETWDAC","FNRD-ETUD","FNRD-ETDS","FNRD-ETWD","FNRD-ETDSMC","FNRD-ETWDMC","FNRD-ETDSAC","FNRD-ETWDAC","MCDS-ETUD","MCDS-ETDS","MCDS-ETWD","MCDS-ETDSMC","MCDS-ETWDMC","MCDS-ETDSAC","MCDS-ETWDAC","UDDS-ETUD"]}},"y":{"field":"mean","type":"quantitative","scale":{"domain":[0,160],"nice":false},"axis":{"orient":"right","values":[0,40,80,120,160],"tickSize":5,"labels":false,"domain":false,"title":null}},
  "color":{"field":"method","type":"nominal","scale":{"domain":["ETUD","ETDS","ETWD","ETDSMC","ETWDMC","ETDSAC","ETWDAC"],"range":["#0072BD","#D95319","#EDB120","#7E2F8E","#77AC30","#4DBEEE","#A2142F"]}},
  "shape":{"field":"soil","type":"nominal","scale":{"domain":["Clay Loam","Loam","Sandy Clay Loam","Sandy Loam"],"range":["circle","square","diamond","triangle-up"]}}}}
]},
{"width":345,"height":94,"data":{"name":"bd_l"},"resolve":{"axis":{"y":"independent"}},"layer":[
 {"data":{"name":"seps"},"mark":{"type":"rule","strokeDash":[2,2],"strokeWidth":2,"color":"black"},"encoding":{"x":{"field":"case","type":"nominal","bandPosition":0,"scale":{"type":"band","paddingInner":0,"paddingOuter":0,"domain":["ACDS-ETUD","ACDS-ETDS","ACDS-ETWD","ACDS-ETDSMC","ACDS-ETWDMC","ACDS-ETDSAC","ACDS-ETWDAC","DS-ETUD","DS-ETDS","DS-ETWD","DS-ETDSMC","DS-ETWDMC","DS-ETDSAC","DS-ETWDAC","FNRD-ETUD","FNRD-ETDS","FNRD-ETWD","FNRD-ETDSMC","FNRD-ETWDMC","FNRD-ETDSAC","FNRD-ETWDAC","MCDS-ETUD","MCDS-ETDS","MCDS-ETWD","MCDS-ETDSMC","MCDS-ETWDMC","MCDS-ETDSAC","MCDS-ETWDAC","UDDS-ETUD"]},"axis":{"labels":false,"ticks":false,"title":null}}}},
 {"mark":{"type":"rule","color":"#1a1a1a","strokeWidth":1.5},"encoding":{"x":{"field":"case","type":"nominal","scale":{"type":"band","paddingInner":0,"paddingOuter":0,"domain":["ACDS-ETUD","ACDS-ETDS","ACDS-ETWD","ACDS-ETDSMC","ACDS-ETWDMC","ACDS-ETDSAC","ACDS-ETWDAC","DS-ETUD","DS-ETDS","DS-ETWD","DS-ETDSMC","DS-ETWDMC","DS-ETDSAC","DS-ETWDAC","FNRD-ETUD","FNRD-ETDS","FNRD-ETWD","FNRD-ETDSMC","FNRD-ETWDMC","FNRD-ETDSAC","FNRD-ETWDAC","MCDS-ETUD","MCDS-ETDS","MCDS-ETWD","MCDS-ETDSMC","MCDS-ETWDMC","MCDS-ETDSAC","MCDS-ETWDAC","UDDS-ETUD"]}},"y":{"field":"lo","type":"quantitative","scale":{"domain":[0,600],"nice":false},"axis":{"orient":"left","values":[0,200,400,600],"tickSize":5,"labelPadding":2,"title":null}},"y2":{"field":"hi"}}},
 {"mark":{"type":"tick","color":"#1a1a1a","thickness":1.5,"size":6},"encoding":{"x":{"field":"case","type":"nominal","scale":{"type":"band","paddingInner":0,"paddingOuter":0,"domain":["ACDS-ETUD","ACDS-ETDS","ACDS-ETWD","ACDS-ETDSMC","ACDS-ETWDMC","ACDS-ETDSAC","ACDS-ETWDAC","DS-ETUD","DS-ETDS","DS-ETWD","DS-ETDSMC","DS-ETWDMC","DS-ETDSAC","DS-ETWDAC","FNRD-ETUD","FNRD-ETDS","FNRD-ETWD","FNRD-ETDSMC","FNRD-ETWDMC","FNRD-ETDSAC","FNRD-ETWDAC","MCDS-ETUD","MCDS-ETDS","MCDS-ETWD","MCDS-ETDSMC","MCDS-ETWDMC","MCDS-ETDSAC","MCDS-ETWDAC","UDDS-ETUD"]}},"y":{"field":"lo","type":"quantitative","scale":{"domain":[0,600],"nice":false},"axis":{"orient":"left","values":[0,40,80,120,160,200,240,280,320,360,400,440,480,520,560,600],"tickSize":2.5,"labels":false,"domain":false,"title":null}}}},
 {"mark":{"type":"tick","color":"#1a1a1a","thickness":1.5,"size":6},"encoding":{"x":{"field":"case","type":"nominal","scale":{"type":"band","paddingInner":0,"paddingOuter":0,"domain":["ACDS-ETUD","ACDS-ETDS","ACDS-ETWD","ACDS-ETDSMC","ACDS-ETWDMC","ACDS-ETDSAC","ACDS-ETWDAC","DS-ETUD","DS-ETDS","DS-ETWD","DS-ETDSMC","DS-ETWDMC","DS-ETDSAC","DS-ETWDAC","FNRD-ETUD","FNRD-ETDS","FNRD-ETWD","FNRD-ETDSMC","FNRD-ETWDMC","FNRD-ETDSAC","FNRD-ETWDAC","MCDS-ETUD","MCDS-ETDS","MCDS-ETWD","MCDS-ETDSMC","MCDS-ETWDMC","MCDS-ETDSAC","MCDS-ETWDAC","UDDS-ETUD"]}},"y":{"field":"hi","type":"quantitative","scale":{"domain":[0,600],"nice":false},"axis":{"orient":"right","values":[0,40,80,120,160,200,240,280,320,360,400,440,480,520,560,600],"tickSize":2.5,"labels":false,"domain":false,"title":null}}}},
 {"mark":{"type":"point","filled":true,"opacity":1,"stroke":"black","strokeWidth":1,"size":90},"encoding":{"x":{"field":"case","type":"nominal","scale":{"type":"band","paddingInner":0,"paddingOuter":0,"domain":["ACDS-ETUD","ACDS-ETDS","ACDS-ETWD","ACDS-ETDSMC","ACDS-ETWDMC","ACDS-ETDSAC","ACDS-ETWDAC","DS-ETUD","DS-ETDS","DS-ETWD","DS-ETDSMC","DS-ETWDMC","DS-ETDSAC","DS-ETWDAC","FNRD-ETUD","FNRD-ETDS","FNRD-ETWD","FNRD-ETDSMC","FNRD-ETWDMC","FNRD-ETDSAC","FNRD-ETWDAC","MCDS-ETUD","MCDS-ETDS","MCDS-ETWD","MCDS-ETDSMC","MCDS-ETWDMC","MCDS-ETDSAC","MCDS-ETWDAC","UDDS-ETUD"]}},"y":{"field":"mean","type":"quantitative","scale":{"domain":[0,600],"nice":false},"axis":{"orient":"right","values":[0,200,400,600],"tickSize":5,"labels":false,"domain":false,"title":null}},
  "color":{"field":"method","type":"nominal","scale":{"domain":["ETUD","ETDS","ETWD","ETDSMC","ETWDMC","ETDSAC","ETWDAC"],"range":["#0072BD","#D95319","#EDB120","#7E2F8E","#77AC30","#4DBEEE","#A2142F"]}},
  "shape":{"field":"soil","type":"nominal","scale":{"domain":["Clay Loam","Loam","Sandy Clay Loam","Sandy Loam"],"range":["circle","square","diamond","triangle-up"]}}}}
]},
{"width":345,"height":94,"data":{"name":"sm_scl"},"resolve":{"axis":{"y":"independent"}},"layer":[
 {"data":{"name":"seps"},"mark":{"type":"rule","strokeDash":[2,2],"strokeWidth":2,"color":"black"},"encoding":{"x":{"field":"case","type":"nominal","bandPosition":0,"scale":{"type":"band","paddingInner":0,"paddingOuter":0,"domain":["ACDS-ETUD","ACDS-ETDS","ACDS-ETWD","ACDS-ETDSMC","ACDS-ETWDMC","ACDS-ETDSAC","ACDS-ETWDAC","DS-ETUD","DS-ETDS","DS-ETWD","DS-ETDSMC","DS-ETWDMC","DS-ETDSAC","DS-ETWDAC","FNRD-ETUD","FNRD-ETDS","FNRD-ETWD","FNRD-ETDSMC","FNRD-ETWDMC","FNRD-ETDSAC","FNRD-ETWDAC","MCDS-ETUD","MCDS-ETDS","MCDS-ETWD","MCDS-ETDSMC","MCDS-ETWDMC","MCDS-ETDSAC","MCDS-ETWDAC","UDDS-ETUD"]},"axis":{"labels":false,"ticks":false,"title":null}}}},
 {"mark":{"type":"rule","color":"#1a1a1a","strokeWidth":1.5},"encoding":{"x":{"field":"case","type":"nominal","scale":{"type":"band","paddingInner":0,"paddingOuter":0,"domain":["ACDS-ETUD","ACDS-ETDS","ACDS-ETWD","ACDS-ETDSMC","ACDS-ETWDMC","ACDS-ETDSAC","ACDS-ETWDAC","DS-ETUD","DS-ETDS","DS-ETWD","DS-ETDSMC","DS-ETWDMC","DS-ETDSAC","DS-ETWDAC","FNRD-ETUD","FNRD-ETDS","FNRD-ETWD","FNRD-ETDSMC","FNRD-ETWDMC","FNRD-ETDSAC","FNRD-ETWDAC","MCDS-ETUD","MCDS-ETDS","MCDS-ETWD","MCDS-ETDSMC","MCDS-ETWDMC","MCDS-ETDSAC","MCDS-ETWDAC","UDDS-ETUD"]}},"y":{"field":"lo","type":"quantitative","scale":{"domain":[0,180],"nice":false},"axis":{"orient":"left","values":[0,60,120,180],"tickSize":5,"labelPadding":2,"title":null}},"y2":{"field":"hi"}}},
 {"mark":{"type":"tick","color":"#1a1a1a","thickness":1.5,"size":6},"encoding":{"x":{"field":"case","type":"nominal","scale":{"type":"band","paddingInner":0,"paddingOuter":0,"domain":["ACDS-ETUD","ACDS-ETDS","ACDS-ETWD","ACDS-ETDSMC","ACDS-ETWDMC","ACDS-ETDSAC","ACDS-ETWDAC","DS-ETUD","DS-ETDS","DS-ETWD","DS-ETDSMC","DS-ETWDMC","DS-ETDSAC","DS-ETWDAC","FNRD-ETUD","FNRD-ETDS","FNRD-ETWD","FNRD-ETDSMC","FNRD-ETWDMC","FNRD-ETDSAC","FNRD-ETWDAC","MCDS-ETUD","MCDS-ETDS","MCDS-ETWD","MCDS-ETDSMC","MCDS-ETWDMC","MCDS-ETDSAC","MCDS-ETWDAC","UDDS-ETUD"]}},"y":{"field":"lo","type":"quantitative","scale":{"domain":[0,180],"nice":false},"axis":{"orient":"left","values":[0,12,24,36,48,60,72,84,96,108,120,132,144,156,168,180],"tickSize":2.5,"labels":false,"domain":false,"title":null}}}},
 {"mark":{"type":"tick","color":"#1a1a1a","thickness":1.5,"size":6},"encoding":{"x":{"field":"case","type":"nominal","scale":{"type":"band","paddingInner":0,"paddingOuter":0,"domain":["ACDS-ETUD","ACDS-ETDS","ACDS-ETWD","ACDS-ETDSMC","ACDS-ETWDMC","ACDS-ETDSAC","ACDS-ETWDAC","DS-ETUD","DS-ETDS","DS-ETWD","DS-ETDSMC","DS-ETWDMC","DS-ETDSAC","DS-ETWDAC","FNRD-ETUD","FNRD-ETDS","FNRD-ETWD","FNRD-ETDSMC","FNRD-ETWDMC","FNRD-ETDSAC","FNRD-ETWDAC","MCDS-ETUD","MCDS-ETDS","MCDS-ETWD","MCDS-ETDSMC","MCDS-ETWDMC","MCDS-ETDSAC","MCDS-ETWDAC","UDDS-ETUD"]}},"y":{"field":"hi","type":"quantitative","scale":{"domain":[0,180],"nice":false},"axis":{"orient":"right","values":[0,12,24,36,48,60,72,84,96,108,120,132,144,156,168,180],"tickSize":2.5,"labels":false,"domain":false,"title":null}}}},
 {"mark":{"type":"point","filled":true,"opacity":1,"stroke":"black","strokeWidth":1,"size":150},"encoding":{"x":{"field":"case","type":"nominal","scale":{"type":"band","paddingInner":0,"paddingOuter":0,"domain":["ACDS-ETUD","ACDS-ETDS","ACDS-ETWD","ACDS-ETDSMC","ACDS-ETWDMC","ACDS-ETDSAC","ACDS-ETWDAC","DS-ETUD","DS-ETDS","DS-ETWD","DS-ETDSMC","DS-ETWDMC","DS-ETDSAC","DS-ETWDAC","FNRD-ETUD","FNRD-ETDS","FNRD-ETWD","FNRD-ETDSMC","FNRD-ETWDMC","FNRD-ETDSAC","FNRD-ETWDAC","MCDS-ETUD","MCDS-ETDS","MCDS-ETWD","MCDS-ETDSMC","MCDS-ETWDMC","MCDS-ETDSAC","MCDS-ETWDAC","UDDS-ETUD"]}},"y":{"field":"mean","type":"quantitative","scale":{"domain":[0,180],"nice":false},"axis":{"orient":"right","values":[0,60,120,180],"tickSize":5,"labels":false,"domain":false,"title":null}},
  "color":{"field":"method","type":"nominal","scale":{"domain":["ETUD","ETDS","ETWD","ETDSMC","ETWDMC","ETDSAC","ETWDAC"],"range":["#0072BD","#D95319","#EDB120","#7E2F8E","#77AC30","#4DBEEE","#A2142F"]}},
  "shape":{"field":"soil","type":"nominal","scale":{"domain":["Clay Loam","Loam","Sandy Clay Loam","Sandy Loam"],"range":["circle","square","diamond","triangle-up"]}}}}
]},
{"width":345,"height":94,"data":{"name":"bd_scl"},"resolve":{"axis":{"y":"independent"}},"layer":[
 {"data":{"name":"seps"},"mark":{"type":"rule","strokeDash":[2,2],"strokeWidth":2,"color":"black"},"encoding":{"x":{"field":"case","type":"nominal","bandPosition":0,"scale":{"type":"band","paddingInner":0,"paddingOuter":0,"domain":["ACDS-ETUD","ACDS-ETDS","ACDS-ETWD","ACDS-ETDSMC","ACDS-ETWDMC","ACDS-ETDSAC","ACDS-ETWDAC","DS-ETUD","DS-ETDS","DS-ETWD","DS-ETDSMC","DS-ETWDMC","DS-ETDSAC","DS-ETWDAC","FNRD-ETUD","FNRD-ETDS","FNRD-ETWD","FNRD-ETDSMC","FNRD-ETWDMC","FNRD-ETDSAC","FNRD-ETWDAC","MCDS-ETUD","MCDS-ETDS","MCDS-ETWD","MCDS-ETDSMC","MCDS-ETWDMC","MCDS-ETDSAC","MCDS-ETWDAC","UDDS-ETUD"]},"axis":{"labels":false,"ticks":false,"title":null}}}},
 {"mark":{"type":"rule","color":"#1a1a1a","strokeWidth":1.5},"encoding":{"x":{"field":"case","type":"nominal","scale":{"type":"band","paddingInner":0,"paddingOuter":0,"domain":["ACDS-ETUD","ACDS-ETDS","ACDS-ETWD","ACDS-ETDSMC","ACDS-ETWDMC","ACDS-ETDSAC","ACDS-ETWDAC","DS-ETUD","DS-ETDS","DS-ETWD","DS-ETDSMC","DS-ETWDMC","DS-ETDSAC","DS-ETWDAC","FNRD-ETUD","FNRD-ETDS","FNRD-ETWD","FNRD-ETDSMC","FNRD-ETWDMC","FNRD-ETDSAC","FNRD-ETWDAC","MCDS-ETUD","MCDS-ETDS","MCDS-ETWD","MCDS-ETDSMC","MCDS-ETWDMC","MCDS-ETDSAC","MCDS-ETWDAC","UDDS-ETUD"]}},"y":{"field":"lo","type":"quantitative","scale":{"domain":[0,600],"nice":false},"axis":{"orient":"left","values":[0,200,400,600],"tickSize":5,"labelPadding":2,"title":null}},"y2":{"field":"hi"}}},
 {"mark":{"type":"tick","color":"#1a1a1a","thickness":1.5,"size":6},"encoding":{"x":{"field":"case","type":"nominal","scale":{"type":"band","paddingInner":0,"paddingOuter":0,"domain":["ACDS-ETUD","ACDS-ETDS","ACDS-ETWD","ACDS-ETDSMC","ACDS-ETWDMC","ACDS-ETDSAC","ACDS-ETWDAC","DS-ETUD","DS-ETDS","DS-ETWD","DS-ETDSMC","DS-ETWDMC","DS-ETDSAC","DS-ETWDAC","FNRD-ETUD","FNRD-ETDS","FNRD-ETWD","FNRD-ETDSMC","FNRD-ETWDMC","FNRD-ETDSAC","FNRD-ETWDAC","MCDS-ETUD","MCDS-ETDS","MCDS-ETWD","MCDS-ETDSMC","MCDS-ETWDMC","MCDS-ETDSAC","MCDS-ETWDAC","UDDS-ETUD"]}},"y":{"field":"lo","type":"quantitative","scale":{"domain":[0,600],"nice":false},"axis":{"orient":"left","values":[0,40,80,120,160,200,240,280,320,360,400,440,480,520,560,600],"tickSize":2.5,"labels":false,"domain":false,"title":null}}}},
 {"mark":{"type":"tick","color":"#1a1a1a","thickness":1.5,"size":6},"encoding":{"x":{"field":"case","type":"nominal","scale":{"type":"band","paddingInner":0,"paddingOuter":0,"domain":["ACDS-ETUD","ACDS-ETDS","ACDS-ETWD","ACDS-ETDSMC","ACDS-ETWDMC","ACDS-ETDSAC","ACDS-ETWDAC","DS-ETUD","DS-ETDS","DS-ETWD","DS-ETDSMC","DS-ETWDMC","DS-ETDSAC","DS-ETWDAC","FNRD-ETUD","FNRD-ETDS","FNRD-ETWD","FNRD-ETDSMC","FNRD-ETWDMC","FNRD-ETDSAC","FNRD-ETWDAC","MCDS-ETUD","MCDS-ETDS","MCDS-ETWD","MCDS-ETDSMC","MCDS-ETWDMC","MCDS-ETDSAC","MCDS-ETWDAC","UDDS-ETUD"]}},"y":{"field":"hi","type":"quantitative","scale":{"domain":[0,600],"nice":false},"axis":{"orient":"right","values":[0,40,80,120,160,200,240,280,320,360,400,440,480,520,560,600],"tickSize":2.5,"labels":false,"domain":false,"title":null}}}},
 {"mark":{"type":"point","filled":true,"opacity":1,"stroke":"black","strokeWidth":1,"size":150},"encoding":{"x":{"field":"case","type":"nominal","scale":{"type":"band","paddingInner":0,"paddingOuter":0,"domain":["ACDS-ETUD","ACDS-ETDS","ACDS-ETWD","ACDS-ETDSMC","ACDS-ETWDMC","ACDS-ETDSAC","ACDS-ETWDAC","DS-ETUD","DS-ETDS","DS-ETWD","DS-ETDSMC","DS-ETWDMC","DS-ETDSAC","DS-ETWDAC","FNRD-ETUD","FNRD-ETDS","FNRD-ETWD","FNRD-ETDSMC","FNRD-ETWDMC","FNRD-ETDSAC","FNRD-ETWDAC","MCDS-ETUD","MCDS-ETDS","MCDS-ETWD","MCDS-ETDSMC","MCDS-ETWDMC","MCDS-ETDSAC","MCDS-ETWDAC","UDDS-ETUD"]}},"y":{"field":"mean","type":"quantitative","scale":{"domain":[0,600],"nice":false},"axis":{"orient":"right","values":[0,200,400,600],"tickSize":5,"labels":false,"domain":false,"title":null}},
  "color":{"field":"method","type":"nominal","scale":{"domain":["ETUD","ETDS","ETWD","ETDSMC","ETWDMC","ETDSAC","ETWDAC"],"range":["#0072BD","#D95319","#EDB120","#7E2F8E","#77AC30","#4DBEEE","#A2142F"]}},
  "shape":{"field":"soil","type":"nominal","scale":{"domain":["Clay Loam","Loam","Sandy Clay Loam","Sandy Loam"],"range":["circle","square","diamond","triangle-up"]}}}}
]},
{"width":345,"height":94,"data":{"name":"sm_sl"},"resolve":{"axis":{"y":"independent"}},"layer":[
 {"data":{"name":"seps"},"mark":{"type":"rule","strokeDash":[2,2],"strokeWidth":2,"color":"black"},"encoding":{"x":{"field":"case","type":"nominal","bandPosition":0,"scale":{"type":"band","paddingInner":0,"paddingOuter":0,"domain":["ACDS-ETUD","ACDS-ETDS","ACDS-ETWD","ACDS-ETDSMC","ACDS-ETWDMC","ACDS-ETDSAC","ACDS-ETWDAC","DS-ETUD","DS-ETDS","DS-ETWD","DS-ETDSMC","DS-ETWDMC","DS-ETDSAC","DS-ETWDAC","FNRD-ETUD","FNRD-ETDS","FNRD-ETWD","FNRD-ETDSMC","FNRD-ETWDMC","FNRD-ETDSAC","FNRD-ETWDAC","MCDS-ETUD","MCDS-ETDS","MCDS-ETWD","MCDS-ETDSMC","MCDS-ETWDMC","MCDS-ETDSAC","MCDS-ETWDAC","UDDS-ETUD"]},"axis":{"values":["ACDS-ETWDMC","DS-ETDSMC","FNRD-ETWDMC","MCDS-ETDSMC","UDDS-ETUD"],"labelExpr":"split(datum.value,'-')[0]","labelAngle":-45,"labelAlign":"right","labelBaseline":"middle","labelPadding":2,"labelDx":-3,"ticks":false,"title":null}}}},
 {"mark":{"type":"rule","color":"#1a1a1a","strokeWidth":1.5},"encoding":{"x":{"field":"case","type":"nominal","scale":{"type":"band","paddingInner":0,"paddingOuter":0,"domain":["ACDS-ETUD","ACDS-ETDS","ACDS-ETWD","ACDS-ETDSMC","ACDS-ETWDMC","ACDS-ETDSAC","ACDS-ETWDAC","DS-ETUD","DS-ETDS","DS-ETWD","DS-ETDSMC","DS-ETWDMC","DS-ETDSAC","DS-ETWDAC","FNRD-ETUD","FNRD-ETDS","FNRD-ETWD","FNRD-ETDSMC","FNRD-ETWDMC","FNRD-ETDSAC","FNRD-ETWDAC","MCDS-ETUD","MCDS-ETDS","MCDS-ETWD","MCDS-ETDSMC","MCDS-ETWDMC","MCDS-ETDSAC","MCDS-ETWDAC","UDDS-ETUD"]}},"y":{"field":"lo","type":"quantitative","scale":{"domain":[0,300],"nice":false},"axis":{"orient":"left","values":[0,100,200,300],"tickSize":5,"labelPadding":2,"title":null}},"y2":{"field":"hi"}}},
 {"mark":{"type":"tick","color":"#1a1a1a","thickness":1.5,"size":6},"encoding":{"x":{"field":"case","type":"nominal","scale":{"type":"band","paddingInner":0,"paddingOuter":0,"domain":["ACDS-ETUD","ACDS-ETDS","ACDS-ETWD","ACDS-ETDSMC","ACDS-ETWDMC","ACDS-ETDSAC","ACDS-ETWDAC","DS-ETUD","DS-ETDS","DS-ETWD","DS-ETDSMC","DS-ETWDMC","DS-ETDSAC","DS-ETWDAC","FNRD-ETUD","FNRD-ETDS","FNRD-ETWD","FNRD-ETDSMC","FNRD-ETWDMC","FNRD-ETDSAC","FNRD-ETWDAC","MCDS-ETUD","MCDS-ETDS","MCDS-ETWD","MCDS-ETDSMC","MCDS-ETWDMC","MCDS-ETDSAC","MCDS-ETWDAC","UDDS-ETUD"]}},"y":{"field":"lo","type":"quantitative","scale":{"domain":[0,300],"nice":false},"axis":{"orient":"left","values":[0,20,40,60,80,100,120,140,160,180,200,220,240,260,280,300],"tickSize":2.5,"labels":false,"domain":false,"title":null}}}},
 {"mark":{"type":"tick","color":"#1a1a1a","thickness":1.5,"size":6},"encoding":{"x":{"field":"case","type":"nominal","scale":{"type":"band","paddingInner":0,"paddingOuter":0,"domain":["ACDS-ETUD","ACDS-ETDS","ACDS-ETWD","ACDS-ETDSMC","ACDS-ETWDMC","ACDS-ETDSAC","ACDS-ETWDAC","DS-ETUD","DS-ETDS","DS-ETWD","DS-ETDSMC","DS-ETWDMC","DS-ETDSAC","DS-ETWDAC","FNRD-ETUD","FNRD-ETDS","FNRD-ETWD","FNRD-ETDSMC","FNRD-ETWDMC","FNRD-ETDSAC","FNRD-ETWDAC","MCDS-ETUD","MCDS-ETDS","MCDS-ETWD","MCDS-ETDSMC","MCDS-ETWDMC","MCDS-ETDSAC","MCDS-ETWDAC","UDDS-ETUD"]}},"y":{"field":"hi","type":"quantitative","scale":{"domain":[0,300],"nice":false},"axis":{"orient":"right","values":[0,20,40,60,80,100,120,140,160,180,200,220,240,260,280,300],"tickSize":2.5,"labels":false,"domain":false,"title":null}}}},
 {"mark":{"type":"point","filled":true,"opacity":1,"stroke":"black","strokeWidth":1,"size":160},"encoding":{"x":{"field":"case","type":"nominal","scale":{"type":"band","paddingInner":0,"paddingOuter":0,"domain":["ACDS-ETUD","ACDS-ETDS","ACDS-ETWD","ACDS-ETDSMC","ACDS-ETWDMC","ACDS-ETDSAC","ACDS-ETWDAC","DS-ETUD","DS-ETDS","DS-ETWD","DS-ETDSMC","DS-ETWDMC","DS-ETDSAC","DS-ETWDAC","FNRD-ETUD","FNRD-ETDS","FNRD-ETWD","FNRD-ETDSMC","FNRD-ETWDMC","FNRD-ETDSAC","FNRD-ETWDAC","MCDS-ETUD","MCDS-ETDS","MCDS-ETWD","MCDS-ETDSMC","MCDS-ETWDMC","MCDS-ETDSAC","MCDS-ETWDAC","UDDS-ETUD"]}},"y":{"field":"mean","type":"quantitative","scale":{"domain":[0,300],"nice":false},"axis":{"orient":"right","values":[0,100,200,300],"tickSize":5,"labels":false,"domain":false,"title":null}},
  "color":{"field":"method","type":"nominal","scale":{"domain":["ETUD","ETDS","ETWD","ETDSMC","ETWDMC","ETDSAC","ETWDAC"],"range":["#0072BD","#D95319","#EDB120","#7E2F8E","#77AC30","#4DBEEE","#A2142F"]}},
  "shape":{"field":"soil","type":"nominal","scale":{"domain":["Clay Loam","Loam","Sandy Clay Loam","Sandy Loam"],"range":["circle","square","diamond","triangle-up"]}}}}
]},
{"width":345,"height":94,"data":{"name":"bd_sl"},"resolve":{"axis":{"y":"independent"}},"layer":[
 {"data":{"name":"seps"},"mark":{"type":"rule","strokeDash":[2,2],"strokeWidth":2,"color":"black"},"encoding":{"x":{"field":"case","type":"nominal","bandPosition":0,"scale":{"type":"band","paddingInner":0,"paddingOuter":0,"domain":["ACDS-ETUD","ACDS-ETDS","ACDS-ETWD","ACDS-ETDSMC","ACDS-ETWDMC","ACDS-ETDSAC","ACDS-ETWDAC","DS-ETUD","DS-ETDS","DS-ETWD","DS-ETDSMC","DS-ETWDMC","DS-ETDSAC","DS-ETWDAC","FNRD-ETUD","FNRD-ETDS","FNRD-ETWD","FNRD-ETDSMC","FNRD-ETWDMC","FNRD-ETDSAC","FNRD-ETWDAC","MCDS-ETUD","MCDS-ETDS","MCDS-ETWD","MCDS-ETDSMC","MCDS-ETWDMC","MCDS-ETDSAC","MCDS-ETWDAC","UDDS-ETUD"]},"axis":{"values":["ACDS-ETWDMC","DS-ETDSMC","FNRD-ETWDMC","MCDS-ETDSMC","UDDS-ETUD"],"labelExpr":"split(datum.value,'-')[0]","labelAngle":-45,"labelAlign":"right","labelBaseline":"middle","labelPadding":2,"labelDx":-3,"ticks":false,"title":null}}}},
 {"mark":{"type":"rule","color":"#1a1a1a","strokeWidth":1.5},"encoding":{"x":{"field":"case","type":"nominal","scale":{"type":"band","paddingInner":0,"paddingOuter":0,"domain":["ACDS-ETUD","ACDS-ETDS","ACDS-ETWD","ACDS-ETDSMC","ACDS-ETWDMC","ACDS-ETDSAC","ACDS-ETWDAC","DS-ETUD","DS-ETDS","DS-ETWD","DS-ETDSMC","DS-ETWDMC","DS-ETDSAC","DS-ETWDAC","FNRD-ETUD","FNRD-ETDS","FNRD-ETWD","FNRD-ETDSMC","FNRD-ETWDMC","FNRD-ETDSAC","FNRD-ETWDAC","MCDS-ETUD","MCDS-ETDS","MCDS-ETWD","MCDS-ETDSMC","MCDS-ETWDMC","MCDS-ETDSAC","MCDS-ETWDAC","UDDS-ETUD"]}},"y":{"field":"lo","type":"quantitative","scale":{"domain":[0,600],"nice":false},"axis":{"orient":"left","values":[0,200,400,600],"tickSize":5,"labelPadding":2,"title":null}},"y2":{"field":"hi"}}},
 {"mark":{"type":"tick","color":"#1a1a1a","thickness":1.5,"size":6},"encoding":{"x":{"field":"case","type":"nominal","scale":{"type":"band","paddingInner":0,"paddingOuter":0,"domain":["ACDS-ETUD","ACDS-ETDS","ACDS-ETWD","ACDS-ETDSMC","ACDS-ETWDMC","ACDS-ETDSAC","ACDS-ETWDAC","DS-ETUD","DS-ETDS","DS-ETWD","DS-ETDSMC","DS-ETWDMC","DS-ETDSAC","DS-ETWDAC","FNRD-ETUD","FNRD-ETDS","FNRD-ETWD","FNRD-ETDSMC","FNRD-ETWDMC","FNRD-ETDSAC","FNRD-ETWDAC","MCDS-ETUD","MCDS-ETDS","MCDS-ETWD","MCDS-ETDSMC","MCDS-ETWDMC","MCDS-ETDSAC","MCDS-ETWDAC","UDDS-ETUD"]}},"y":{"field":"lo","type":"quantitative","scale":{"domain":[0,600],"nice":false},"axis":{"orient":"left","values":[0,40,80,120,160,200,240,280,320,360,400,440,480,520,560,600],"tickSize":2.5,"labels":false,"domain":false,"title":null}}}},
 {"mark":{"type":"tick","color":"#1a1a1a","thickness":1.5,"size":6},"encoding":{"x":{"field":"case","type":"nominal","scale":{"type":"band","paddingInner":0,"paddingOuter":0,"domain":["ACDS-ETUD","ACDS-ETDS","ACDS-ETWD","ACDS-ETDSMC","ACDS-ETWDMC","ACDS-ETDSAC","ACDS-ETWDAC","DS-ETUD","DS-ETDS","DS-ETWD","DS-ETDSMC","DS-ETWDMC","DS-ETDSAC","DS-ETWDAC","FNRD-ETUD","FNRD-ETDS","FNRD-ETWD","FNRD-ETDSMC","FNRD-ETWDMC","FNRD-ETDSAC","FNRD-ETWDAC","MCDS-ETUD","MCDS-ETDS","MCDS-ETWD","MCDS-ETDSMC","MCDS-ETWDMC","MCDS-ETDSAC","MCDS-ETWDAC","UDDS-ETUD"]}},"y":{"field":"hi","type":"quantitative","scale":{"domain":[0,600],"nice":false},"axis":{"orient":"right","values":[0,40,80,120,160,200,240,280,320,360,400,440,480,520,560,600],"tickSize":2.5,"labels":false,"domain":false,"title":null}}}},
 {"mark":{"type":"point","filled":true,"opacity":1,"stroke":"black","strokeWidth":1,"size":160},"encoding":{"x":{"field":"case","type":"nominal","scale":{"type":"band","paddingInner":0,"paddingOuter":0,"domain":["ACDS-ETUD","ACDS-ETDS","ACDS-ETWD","ACDS-ETDSMC","ACDS-ETWDMC","ACDS-ETDSAC","ACDS-ETWDAC","DS-ETUD","DS-ETDS","DS-ETWD","DS-ETDSMC","DS-ETWDMC","DS-ETDSAC","DS-ETWDAC","FNRD-ETUD","FNRD-ETDS","FNRD-ETWD","FNRD-ETDSMC","FNRD-ETWDMC","FNRD-ETDSAC","FNRD-ETWDAC","MCDS-ETUD","MCDS-ETDS","MCDS-ETWD","MCDS-ETDSMC","MCDS-ETWDMC","MCDS-ETDSAC","MCDS-ETWDAC","UDDS-ETUD"]}},"y":{"field":"mean","type":"quantitative","scale":{"domain":[0,600],"nice":false},"axis":{"orient":"right","values":[0,200,400,600],"tickSize":5,"labels":false,"domain":false,"title":null}},
  "color":{"field":"method","type":"nominal","scale":{"domain":["ETUD","ETDS","ETWD","ETDSMC","ETWDMC","ETDSAC","ETWDAC"],"range":["#0072BD","#D95319","#EDB120","#7E2F8E","#77AC30","#4DBEEE","#A2142F"]}},
  "shape":{"field":"soil","type":"nominal","scale":{"domain":["Clay Loam","Loam","Sandy Clay Loam","Sandy Loam"],"range":["circle","square","diamond","triangle-up"]}}}}
]}
]
}
